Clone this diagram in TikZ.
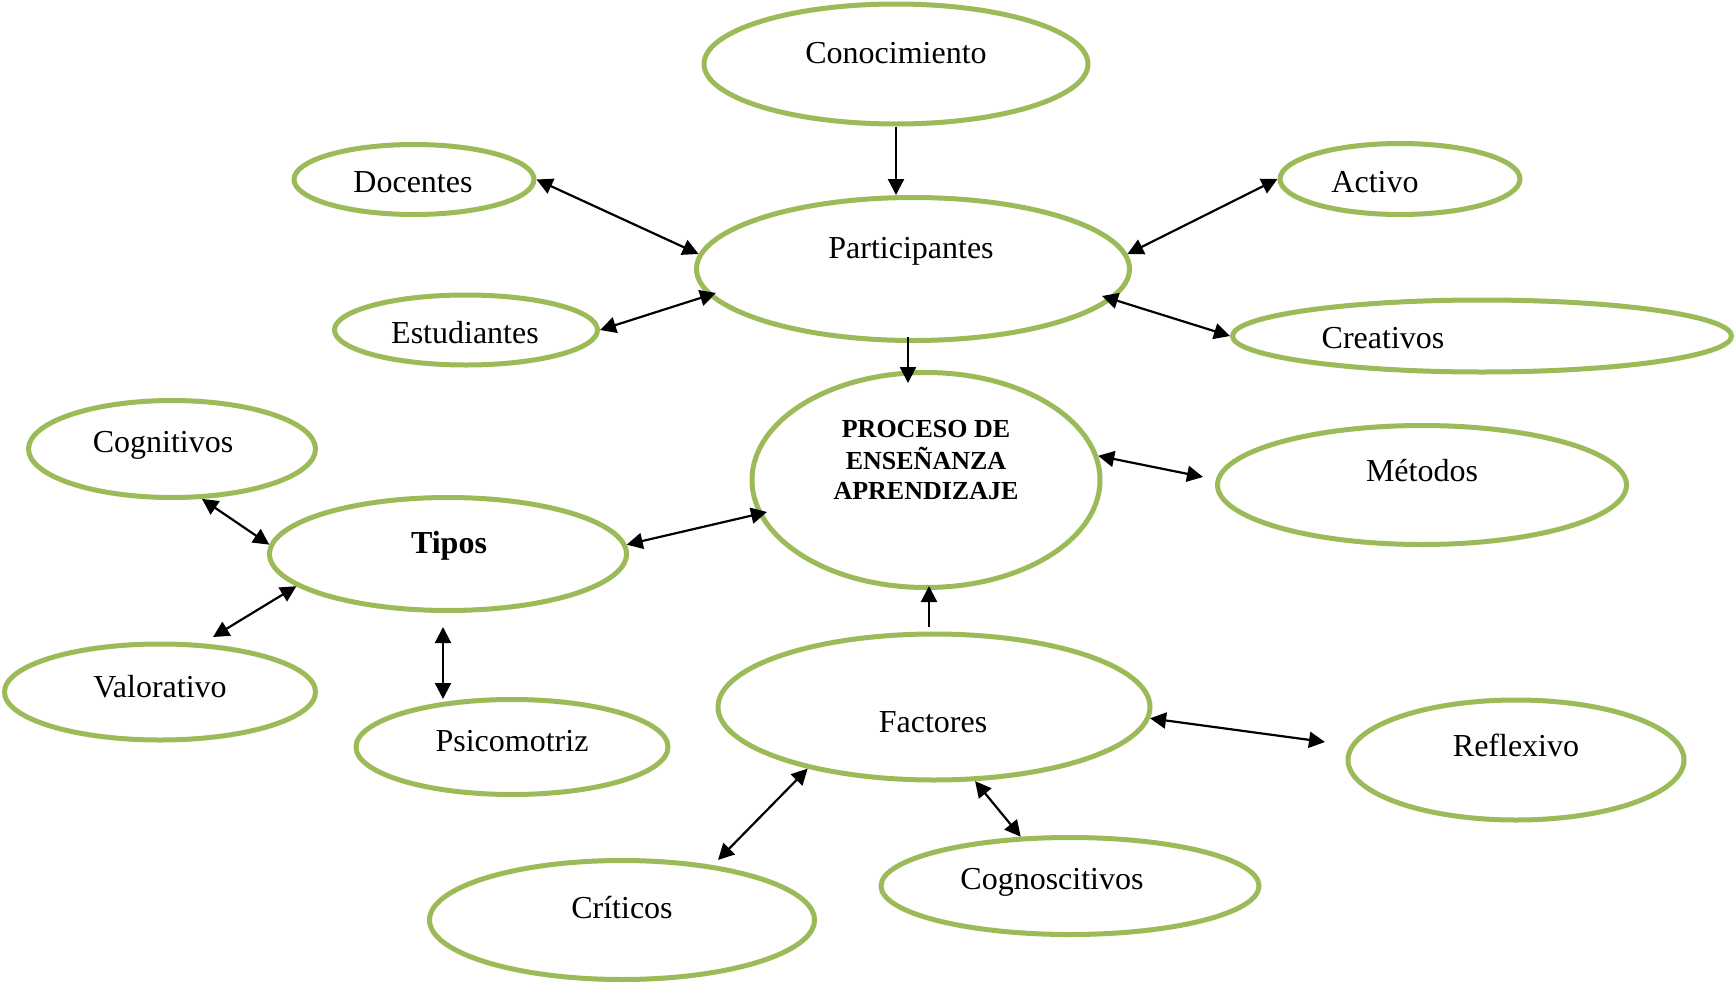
\documentclass[tikz,border=0pt]{standalone}
\usepackage{fontspec}
\setmainfont{Liberation Serif}
\usetikzlibrary{shapes.geometric,arrows.meta}
\definecolor{leaf}{HTML}{9BBB59}
\tikzset{
  bubble/.style={ellipse, draw=leaf, line width=2.5pt, inner sep=0pt},
  word/.style={anchor=base, inner sep=0pt, font=\fontsize{16pt}{19pt}\selectfont},
  title/.style={anchor=base, inner sep=0pt, font=\fontsize{13pt}{15.5pt}\selectfont\bfseries},
  link/.style={line width=1.1pt, {Triangle[length=8pt,width=8pt]}-{Triangle[length=8pt,width=8pt]}},
  onelink/.style={line width=1.1pt, -{Triangle[length=8pt,width=8pt]}}
}
\begin{document}
\begin{tikzpicture}[x=0.5pt,y=-0.5pt]
\fill[white] (0,0) rectangle (1735,985);
\useasboundingbox (0,0) rectangle (1735,985);

% ellipses
\node[bubble, minimum width=192pt,   minimum height=60pt]   (con) at (896,64)    {};
\node[bubble, minimum width=120pt,   minimum height=35pt]   (doc) at (414,179.5) {};
\node[bubble, minimum width=216.5pt, minimum height=71.5pt] (par) at (913,269)   {};
\node[bubble, minimum width=120pt,   minimum height=35.5pt] (act) at (1400,179)  {};
\node[bubble, minimum width=131.5pt, minimum height=35pt]   (est) at (466,330)   {};
\node[bubble, minimum width=249.5pt, minimum height=36pt]   (cre) at (1482,336)  {};
\node[bubble, minimum width=174pt,   minimum height=107.5pt](pro) at (926,480)   {};
\node[bubble, minimum width=204.5pt, minimum height=59.5pt] (met) at (1422,485)  {};
\node[bubble, minimum width=143.5pt, minimum height=48.5pt] (cog) at (172,449)   {};
\node[bubble, minimum width=178.5pt, minimum height=56.5pt] (tps) at (448,554)   {};
\node[bubble, minimum width=155.5pt, minimum height=48pt]   (val) at (160,692)   {};
\node[bubble, minimum width=156pt,   minimum height=47.5pt] (psi) at (512,747)   {};
\node[bubble, minimum width=216pt,   minimum height=73pt]   (fac) at (934,707)   {};
\node[bubble, minimum width=168pt,   minimum height=60pt]   (ref) at (1516,760)  {};
\node[bubble, minimum width=189pt,   minimum height=48.5pt] (cgn) at (1070,886)  {};
\node[bubble, minimum width=192.5pt, minimum height=59.5pt] (cri) at (622,920)   {};

% labels
\node[word] (t-con) at (896,63)  {Conocimiento};
\node[word] (t-doc) at (413,192) {Docentes};
\node[word] (t-par) at (911,258) {Participantes};
\node[word] (t-act) at (1375,192) {Activo};
\node[word] (t-est) at (465,343) {Estudiantes};
\node[word] (t-cre) at (1383,348) {Creativos};
\node[title] (t-pro1) at (926,437) {PROCESO DE};
\node[title] (t-pro2) at (926,469) {ENSEÑANZA};
\node[title] (t-pro3) at (926,499) {APRENDIZAJE};
\node[word] (t-met) at (1422,481) {Métodos};
\node[word] (t-cog) at (163,452) {Cognitivos};
\node[word, font=\fontsize{16pt}{19pt}\selectfont\bfseries] (t-tps) at (449,553) {Tipos};
\node[word] (t-val) at (160,697) {Valorativo};
\node[word] (t-psi) at (512,751) {Psicomotriz};
\node[word] (t-fac) at (933,732) {Factores};
\node[word] (t-ref) at (1516,756) {Reflexivo};
\node[word] (t-cgn) at (1052,889) {Cognoscitivos};
\node[word] (t-cri) at (622,918) {Críticos};

% free ends of connectors
\coordinate (par-out) at (908,337);
\coordinate (pro-top) at (908,383);
\coordinate (par-cre) at (1102,296);
\coordinate (par-est) at (716,293);
\coordinate (pro-tps) at (767,512);
\coordinate (fac-out) at (929,627);
\coordinate (pro-bot) at (929,586);
\coordinate (met-in)  at (1203,477);
\coordinate (val-in)  at (213,637);
\coordinate (tps-out) at (443,627);
\coordinate (psi-in)  at (443,699);
\coordinate (ref-in)  at (1325,742);
\coordinate (cri-in)  at (718,860);

% connectors
\draw[onelink] (con.south) -- (con.south |- par.north);
\draw[link] (doc.east) -- (par.176);
\draw[link] (est.east) -- (par-est);
\draw[link] (act.west) -- (par.4);
\draw[link] (cre.west) -- (par-cre);
\draw[onelink] (par-out) -- (pro-top);
\draw[link] (pro.8) -- (met-in);
\draw[link] (tps.3) -- (pro-tps);
\draw[link] (cog.-59) -- (tps.177);
\draw[link] (val-in) -- (tps.192);
\draw[link] (tps-out) -- (psi-in);
\draw[onelink] (fac-out) -- (pro-bot);
\draw[link] (fac.-3) -- (ref-in);
\draw[link] (fac.206) -- (cri-in);
\draw[link] (fac.-61) -- (cgn.135);
\end{tikzpicture}
\end{document}
